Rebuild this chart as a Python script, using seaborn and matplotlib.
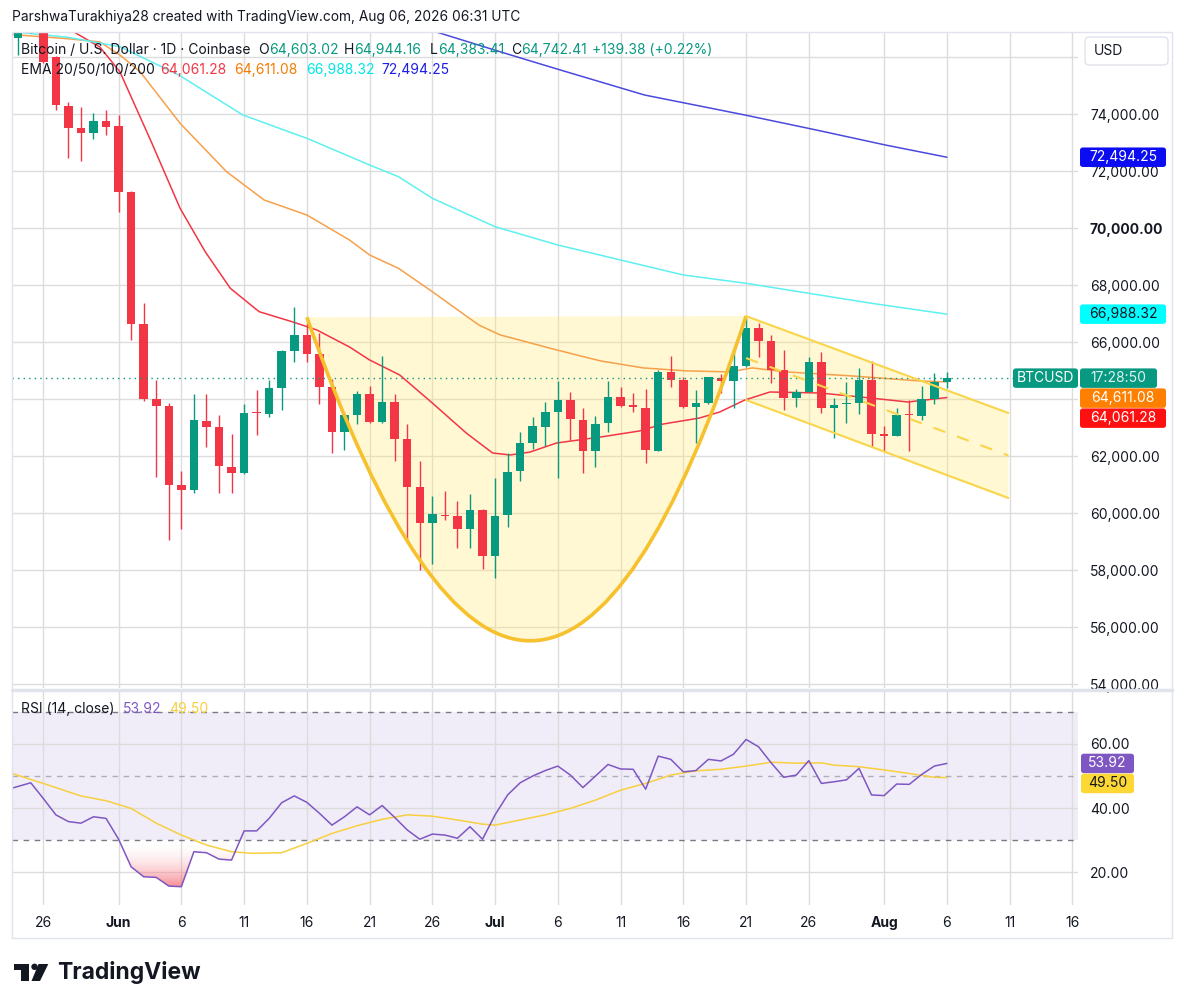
import numpy as np
import matplotlib
matplotlib.use("Agg")
import matplotlib.pyplot as plt
import seaborn as sns
from matplotlib.path import Path
from matplotlib.patches import PathPatch, Polygon, FancyBboxPatch, Rectangle, Ellipse
from matplotlib.lines import Line2D
from matplotlib.colors import LinearSegmentedColormap

# ---- data (x = days after 26 May 2026) ----
candle_days = list(range(-2, 73))
opens = [76670, 77100, 77300, 76020, 74280, 73510, 73330, 73750, 73580, 71265,
         66640, 64010, 63770, 61000, 60800, 63250, 63040, 61640, 61410, 63550,
         63490, 64410, 65690, 66250, 65590, 64430, 62850, 63450, 64200, 63200,
         63920, 62610, 60940, 59660, 59950, 59890, 59450, 60125, 58490, 59925,
         61480, 62477, 63039, 63544, 63975, 63274, 62196, 63158, 64091, 63790,
         63705, 62196, 64968, 64677, 63719, 63860, 64758, 64642, 65169, 66491,
         66056, 65028, 64056, 64267, 65319, 63684, 63825, 63881, 64677, 62782,
         62723, 63500, 63425, 64011, 64603.02]
highs = [77200, 77700, 77500, 76050, 74420, 74240, 74030, 74140, 73960, 71300,
         67380, 64680, 63870, 61470, 64190, 64190, 63450, 62790, 63840, 64330,
         64680, 65730, 67250, 66680, 66340, 64710, 63570, 64290, 64480, 65530,
         64190, 63130, 61840, 60615, 60790, 60420, 60690, 60150, 61250, 62115,
         62870, 63389, 63916, 64642, 64246, 63684, 63414, 64642, 64421, 64210,
         64361, 65028, 65519, 64770, 64326, 64800, 64888, 65730, 66923, 66667,
         66256, 65730, 64351, 65495, 65670, 64035, 64618, 65088, 65354, 63063,
         63684, 63975, 64467, 64933, 64944.16]
lows = [76080, 76870, 75800, 74150, 72460, 72350, 73120, 73260, 70565, 66080,
        63950, 61290, 59070, 59460, 60720, 62340, 60720, 60720, 61390, 62730,
        63380, 63630, 65310, 65310, 63830, 62130, 62230, 63130, 63160, 63160,
        61850, 59000, 58000, 58225, 59750, 58790, 58790, 58050, 57735, 59505,
        61150, 62256, 62372, 61228, 62572, 61424, 61614, 62863, 63740, 63565,
        61754, 62170, 64421, 63700, 62456, 63835, 64232, 63705, 65150, 65495,
        64561, 63625, 63719, 64246, 63530, 62631, 63179, 63484, 62337, 62196,
        62700, 62196, 63274, 63825, 64383.41]
closes = [76950, 77400, 75850, 74330, 73510, 73330, 73750, 73540, 71265, 66640,
          64010, 63770, 61000, 60825, 63280, 63040, 61665, 61410, 63530, 63520,
          64410, 65690, 66250, 65590, 64430, 62850, 63450, 64200, 63200, 63920,
          62610, 60940, 59660, 59975, 59890, 59450, 60125, 58490, 59915, 61445,
          62480, 63063, 63544, 63975, 63298, 62196, 63133, 64091, 63765, 63740,
          62221, 64968, 64677, 63719, 63860, 64772, 64642, 65169, 66491, 66056,
          65028, 64056, 64246, 65319, 63684, 63800, 63860, 64677, 62782, 62723,
          63449, 63460, 64011, 64603, 64742.41]

ema20_days = [2.0, 4.5, 6.1, 8.6, 10.9, 12.9, 14.9, 17.2, 19.9, 21.8, 24.4, 26.0, 28.4,
              31.0, 33.7, 35.8, 37.2, 38.8, 40.9, 44.4, 47.5, 49.4, 52.3, 53.9, 55.9,
              57.9, 61.9, 65.9, 68.9, 72.0]
ema20_vals = [77000, 76364, 75496, 73039, 70702, 69179, 67895, 67074, 66712, 66432,
              65835, 65380, 64853, 63870, 62818, 62116, 62046, 62151, 62467, 62677,
              62888, 63133, 63344, 63555, 63975, 64256, 64221, 64046, 63905, 64061.28]
ema50_days = [-2.5, 2.0, 4.5, 6.1, 7.7, 10.9, 14.6, 17.6, 21.0, 24.4, 26.0, 28.3, 31.0,
              34.7, 36.4, 40.9, 44.4, 47.8, 51.3, 54.7, 56.5, 59.2, 64.5, 69.9, 72.0]
ema50_vals = [76800, 76650, 76540, 76082, 75500, 73685, 71987, 70993, 70467, 69590,
              69063, 68597, 67776, 66607, 66260, 65733, 65347, 65101, 64996, 64961,
              65101, 64961, 64818, 64642, 64611.08]
ema100_days = [-2.5, 2.0, 6.1, 10.8, 15.9, 21.0, 26.0, 28.3, 31.0, 36.0, 41.0, 46.0,
               51.0, 56.0, 61.0, 66.0, 72.0]
ema100_vals = [76900, 76700, 76373, 75380, 73976, 73158, 72222, 71811, 71053, 70056,
               69414, 68888, 68362, 68070, 67720, 67369, 66988.32]
ema200_days = [30.5, 36.8, 41.2, 47.9, 55.9, 61.6, 67.1, 72.0]
ema200_vals = [77000, 76141, 75555, 74678, 73976, 73449, 72923, 72494.25]

rsi_days = [-2.5] + list(range(-1, 73))
rsi_vals = [46.2, 47.9, 43.0, 37.9, 35.8, 35.3, 37.3, 36.8, 30.3, 21.7, 18.6, 18.4, 15.7,
            15.5, 26.4, 26.1, 24.1, 23.8, 32.9, 32.9, 36.8, 41.7, 43.8, 41.8, 38.4,
            34.7, 37.3, 40.4, 37.9, 40.8, 37.1, 33.2, 30.3, 31.9, 31.6, 30.6, 34.2,
            30.3, 37.9, 44.1, 47.9, 50.0, 51.7, 53.1, 50.3, 46.4, 50.0, 53.6, 52.2,
            52.1, 45.9, 56.2, 55.2, 51.3, 51.7, 55.2, 54.7, 56.8, 61.4, 59.1, 54.1,
            49.6, 50.3, 54.8, 47.7, 48.2, 48.8, 52.4, 44.1, 43.9, 47.5, 47.4, 50.5,
            53.1, 53.92]
rsi_ma_days = [-2.5, 0, 3, 5, 7, 9, 11, 13, 15, 16.7, 19, 21, 23, 25, 27, 29, 31, 33, 35,
               36, 38, 40, 42, 44, 46, 48, 50, 52, 54, 56, 58, 60, 62, 63, 65, 67, 69,
               71, 72]
rsi_ma_vals = [50.8, 47.7, 43.8, 42.3, 39.9, 35.3, 31.6, 28.5, 26.4, 25.9, 26.1, 29.0,
               32.1, 34.5, 36.5, 37.9, 37.5, 36.3, 35.0, 34.7, 36.3, 37.9, 39.9, 42.5,
               45.6, 47.7, 50.3, 51.6, 52.1, 53.1, 54.3, 54.0, 54.1, 53.4, 52.9, 51.9,
               50.8, 49.6, 49.50]

# drawings: cup (quadratic curve: start, control, end) and falling channel
cup_days = [21, 39.14, 56]
cup_prices = [66880, 44150, 66920]
chan_days = [56, 76.9]
chan_upper = [66920, 63519]
chan_lower = [63975, 60536]

tick_days = [0, 6, 11, 16, 21, 26, 31, 36, 41, 46, 51, 56, 61, 67, 72, 77, 82]
tick_labels = ["26", "Jun", "6", "11", "16", "21", "26", "Jul", "6", "11", "16", "21",
               "26", "Aug", "6", "11", "16"]
price_ticks = list(range(54000, 78000, 2000))
hidden_ticks = [64000, 76000]  # covered by the price tags / USD box
rsi_ticks = [20, 40, 60]

GREEN, RED = "#089981", "#f23645"
INK, GRID, BORDER = "#131722", "#dcdcdc", "#e0e3eb"

sns.set_theme(style="white")
plt.rcParams["font.family"] = ["Inter", "DejaVu Sans"]

W, H = 1184, 1008
fig = plt.figure(figsize=(W / 100, H / 100), dpi=100)


def fbox(x0, y0, x1, y1):
    return [x0 / W, 1 - y1 / H, (x1 - x0) / W, (y1 - y0) / H]


ax = fig.add_axes(fbox(11.7, 32, 1078, 688))
ax2 = fig.add_axes(fbox(11.7, 691, 1078, 905), sharex=ax)
XLIM = (-2.518, 82.45)

# ---- price pane ----
cfill = dict(fc="#ffea7a", alpha=0.33, ec="none", zorder=1)
cup = Path([(cup_days[0], cup_prices[0]), (cup_days[1], cup_prices[1]),
            (cup_days[2], cup_prices[2]), (cup_days[0], cup_prices[0])],
           [Path.MOVETO, Path.CURVE3, Path.CURVE3, Path.CLOSEPOLY])
ax.add_patch(PathPatch(cup, **cfill))
ax.add_patch(PathPatch(Path(cup.vertices[:3], cup.codes[:3]), fc="none",
                       ec="#f6c12d", lw=2.6, zorder=5))
ax.add_patch(Polygon([(chan_days[0], chan_upper[0]), (chan_days[1], chan_upper[1]),
                      (chan_days[1], chan_lower[1]), (chan_days[0], chan_lower[0])], **cfill))
ax.plot(chan_days, chan_upper, color="#f8d54a", lw=1.5, zorder=5)
ax.plot(chan_days, chan_lower, color="#f8d54a", lw=1.5, zorder=5)
mid = [(u + l) / 2 for u, l in zip(chan_upper, chan_lower)]
ax.plot(chan_days, mid, color="#f8d54a", lw=1.5, ls=(0, (6, 6)), zorder=5)

for d, v, c in [(ema20_days, ema20_vals, "#f23645"), (ema50_days, ema50_vals, "#f7a04b"),
                (ema100_days, ema100_vals, "#5ef0f0"), (ema200_days, ema200_vals, "#4a4ade")]:
    sns.lineplot(x=d, y=v, ax=ax, color=c, linewidth=1.1, estimator=None, sort=False, zorder=3)

cols = [GREEN if c >= o else RED for o, c in zip(opens, closes)]
ax.vlines(candle_days, lows, highs, colors=cols, lw=1, zorder=4)
bottoms = [min(o, c) for o, c in zip(opens, closes)]
heights = [max(abs(c - o), 40) for o, c in zip(opens, closes)]
ax.bar(candle_days, heights, bottom=bottoms, width=0.68, color=cols, lw=0, zorder=4)

last = closes[-1]
ax.axhline(last, xmax=(1013 - 11.7) / (1078 - 11.7), color=GREEN, lw=1,
           ls=(0, (1, 3)), zorder=4)

ax.set_xlim(*XLIM)
ax.set_ylim(53870, 76888)
ax.set_yticks(price_ticks)
ax.set_yticklabels(["" if p in hidden_ticks else f"{p:,.2f}" for p in price_ticks])
ax.yaxis.tick_right()
ax.set_xticks(tick_days)
ax.tick_params(axis="x", labelbottom=False, length=0)
ax.tick_params(axis="y", length=0, pad=8.6, labelsize=10, labelcolor=INK)
for lab in ax.get_yticklabels():
    if lab.get_text() == "70,000.00":
        lab.set_fontweight("bold")
ax.grid(True, color=GRID, lw=1)
ax.set_axisbelow(True)

# ---- RSI pane ----
ax2.axhspan(30, 70, color="#7e57c2", alpha=0.1, lw=0, zorder=0.5)
for lvl, a in [(70, 1), (50, 0.55), (30, 1)]:
    ax2.axhline(lvl, color="#787b86", lw=1, ls=(0, (4, 4)), alpha=a, zorder=1)
r = np.array(rsi_vals)
pc = ax2.fill_between(rsi_days, r, 30, where=r < 30, interpolate=True, color="none", lw=0)
clip = Path.make_compound_path(*pc.get_paths())
cmap = LinearSegmentedColormap.from_list("os", [(1, 1, 1, 0), (0.95, 0.21, 0.27, 0.7)])
im = ax2.imshow(np.linspace(0, 1, 64)[::-1].reshape(-1, 1), extent=[-3, 83, 14, 30],
                origin="lower", aspect="auto", cmap=cmap, zorder=1.5)
im.set_clip_path(clip, transform=ax2.transData)
sns.lineplot(x=rsi_ma_days, y=rsi_ma_vals, ax=ax2, color="#f7cf3f", linewidth=1.1,
             estimator=None, sort=False, zorder=3)
sns.lineplot(x=rsi_days, y=rsi_vals, ax=ax2, color="#7e57c2", linewidth=1.1,
             estimator=None, sort=False, zorder=4)
ax2.set_xlim(*XLIM)
ax2.set_ylim(9.8, 76.5)
ax2.set_yticks(rsi_ticks)
ax2.set_yticklabels([f"{t:.2f}" for t in rsi_ticks])
ax2.yaxis.tick_right()
ax2.set_xticks(tick_days)
ax2.set_xticklabels(tick_labels)
ax2.tick_params(axis="x", length=0, pad=8, labelsize=10, labelcolor=INK)
ax2.tick_params(axis="y", length=0, pad=8.6, labelsize=10, labelcolor=INK)
for lab in ax2.get_xticklabels():
    if lab.get_text() in ("Jun", "Jul", "Aug"):
        lab.set_fontweight("bold")
ax2.grid(True, color=GRID, lw=1)
ax2.set_axisbelow(True)
for a in (ax, ax2):
    a.set_xlabel("")
    a.set_ylabel("")
    for s in a.spines.values():
        s.set_visible(False)

# ---- frame ----
fig.add_artist(Rectangle((11.7 / W, 1 - 938 / H), (1172 - 11.7) / W, (938 - 31.7) / H,
                         transform=fig.transFigure, fc="none", ec=BORDER, lw=1))
fig.add_artist(Line2D([11.7 / W, 1172 / W], [1 - 689.5 / H] * 2, color=BORDER, lw=2.5,
                      transform=fig.transFigure))

# ---- texts ----
rend = fig.canvas.get_renderer()


def run(x, y, parts, size=10):
    for s, c in parts:
        t = fig.text(x / W, 1 - y / H, s, color=c, fontsize=size, va="center", ha="left")
        x += t.get_window_extent(rend).width


fig.text(12 / W, 1 - 17 / H, "ParshwaTurakhiya28 created with TradingView.com, Aug 06, 2026 06:31 UTC",
         fontsize=9.9, color=INK, va="center")
run(21, 50, [("Bitcoin / U.S. Dollar · 1D · Coinbase", INK)])
run(258, 50, [("O", INK), ("64,603.02", GREEN)])
run(344, 50, [("H", INK), ("64,944.16", GREEN)])
run(430, 50, [("L", INK), ("64,383.41", GREEN)])
run(511, 50, [("C", INK), ("64,742.41", GREEN)])
run(592, 50, [("+139.38 (+0.22%)", GREEN)])
run(21, 70, [("EMA 20/50/100/200", INK)])
run(160, 70, [("64,061.28", "#f23645")])
run(234, 70, [("64,611.08", "#f57c00")])
run(306, 70, [("66,988.32", "#00e5e5")])
run(381, 70, [("72,494.25", "#1e1ee6")])
run(21, 709, [("RSI (14, close)", INK)])
run(123, 709, [("53.92", "#7e57c2")])
run(169, 709, [("49.50", "#f7cf3f")])


def py(a, v):
    return H - a.transData.transform((0, v))[1]


def tag(x0, x1, yc, text, fc, tc, h=19.5):
    fig.add_artist(FancyBboxPatch((x0 / W, 1 - (yc + h / 2) / H), (x1 - x0) / W, h / H,
                                  boxstyle="round,pad=0,rounding_size=0.0025",
                                  transform=fig.transFigure, fc=fc, ec="none"))
    fig.text((x0 + x1) / 2 / W, 1 - yc / H, text, ha="center", va="center",
             color=tc, fontsize=10)


tag(1080, 1166, py(ax, 72494.25), "72,494.25", "#0c0cf2", "white")
tag(1080, 1166, py(ax, 66988.32), "66,988.32", "#00ffff", INK)
yb = py(ax, last)
tag(1013, 1078, yb, "BTCUSD", GREEN, "white")
tag(1080, 1157, yb, "17:28:50", GREEN, "#dff3ef")
tag(1080, 1166, yb + 20, "64,611.08", "#ff8000", "white")
tag(1080, 1166, yb + 40, "64,061.28", "#ff1010", "white")
yr = py(ax2, 53.92)
tag(1081, 1134, yr, "53.92", "#7e57c2", "white")
tag(1081, 1134, yr + 20, "49.50", "#fdd835", INK)

fig.add_artist(FancyBboxPatch((1085 / W, 1 - 65 / H), 83 / W, 28 / H,
                              boxstyle="round,pad=0,rounding_size=0.004",
                              transform=fig.transFigure, fc="white", ec=BORDER, lw=1))
fig.text(1094 / W, 1 - 51 / H, "USD", fontsize=10, color=INK, va="center")

# ---- TradingView logo ----
tf = fig.transFigure
fig.add_artist(Rectangle((14 / W, 1 - 969.5 / H), 15 / W, 5.5 / H, transform=tf, fc=INK, ec="none"))
fig.add_artist(Rectangle((21 / W, 1 - 981 / H), 8 / W, 17 / H, transform=tf, fc=INK, ec="none"))
fig.add_artist(Ellipse((34.5 / W, 1 - 966.8 / H), 6.4 / W, 6.4 / H, transform=tf, fc=INK, ec="none"))
fig.add_artist(Polygon([(38.5 / W, 1 - 964 / H), (48.3 / W, 1 - 964 / H),
                        (40 / W, 1 - 981 / H), (31.5 / W, 1 - 981 / H)],
                       transform=tf, fc=INK, ec="none"))
fig.text(57 / W, 1 - 972 / H, "TradingView", fontsize=16.5, fontweight="bold",
         color=INK, va="center")

fig.savefig("out.png", dpi=100)
